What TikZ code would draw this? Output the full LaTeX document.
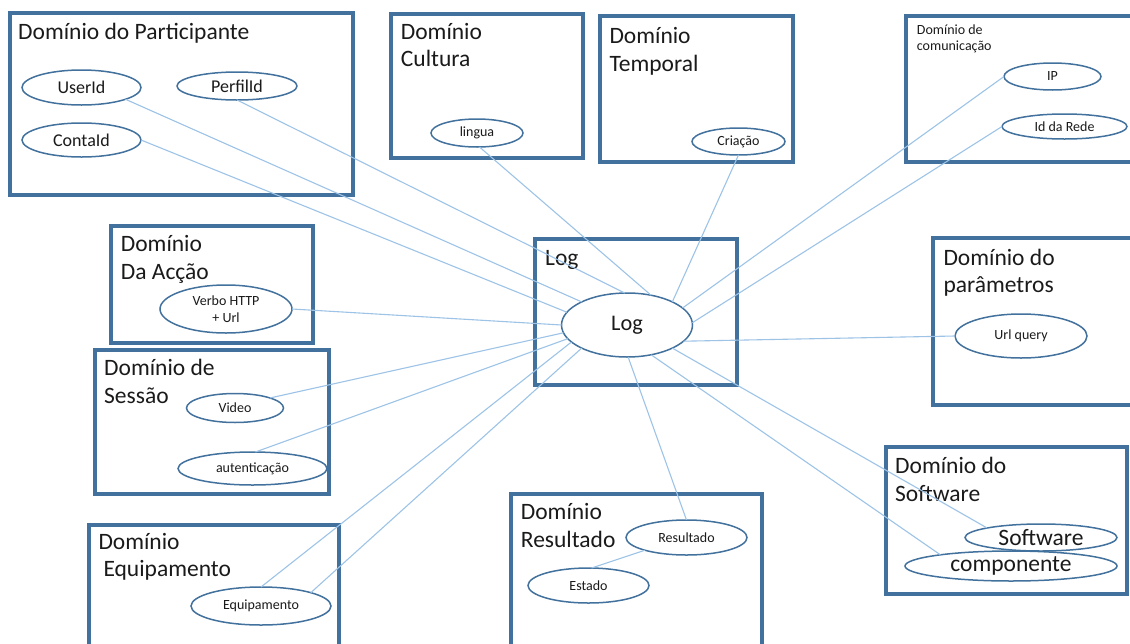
\documentclass[tikz,border=0pt]{standalone}
\usepackage{fontspec}
\setmainfont{Carlito}
\usetikzlibrary{shapes.geometric}
\definecolor{frame}{HTML}{41719C}
\definecolor{wire}{HTML}{9DC3E6}
\definecolor{ink}{HTML}{1A1A1A}
\begin{document}
\begin{tikzpicture}[x=1pt,y=-1pt,
  dombox/.style={draw=frame,line width=4pt,rectangle,inner sep=0pt,outer sep=0pt},
  % titles are placed by the baseline of their last line
  domtitle/.style={anchor=base west,inner sep=0pt,align=left,text=ink,
    font=\fontsize{23.5}{27.7}\selectfont},
  domtitlesmall/.style={domtitle,font=\fontsize{14}{16}\selectfont},
  attrnode/.style={draw=frame,line width=1.5pt,ellipse,fill=white,inner sep=0pt,
    outer sep=0pt,text=ink,font=\fontsize{14}{17.6}\selectfont,align=center},
  midattr/.style={attrnode,font=\fontsize{18}{20}\selectfont},
  bigattr/.style={attrnode,font=\fontsize{23.5}{26}\selectfont},
  wireline/.style={draw=wire,line width=1.1pt}]
\useasboundingbox (0,0) rectangle (1130,643);
\clip (0,0) rectangle (1130,643);

% domain frames
\node[dombox,minimum width=343,minimum height=182]   (partbox)  at (181,103.5)   {};
\node[dombox,minimum width=192,minimum height=143.5] (cultbox)  at (486.5,85.75) {};
\node[dombox,minimum width=193.5,minimum height=145.5] (tempbox) at (696.25,88.75) {};
\node[dombox,minimum width=234,minimum height=145.5] (comubox)  at (1023,88.75)  {};
\node[dombox,minimum width=202,minimum height=117]   (acaobox)  at (212,284)     {};
\node[dombox,minimum width=234,minimum height=144]   (sessbox)  at (212,422)     {};
\node[dombox,minimum width=202,minimum height=146]   (logbox)   at (636,312)     {};
\node[dombox,minimum width=207,minimum height=167]   (parambox) at (1036.5,321.5) {};
\node[dombox,minimum width=241,minimum height=147]   (softbox)  at (1006.5,520.5) {};
\node[dombox,minimum width=251,minimum height=156]   (resbox)   at (636,572)     {};
\node[dombox,minimum width=250,minimum height=125]   (equipbox) at (214,587.5)   {};

% frame titles
\node[domtitle] (parttitle)  at (18,39.3)    {Domínio do Participante};
\node[domtitle] (culttitle)  at (400.7,66.9) {Domínio\\Cultura};
\node[domtitle] (temptitle)  at (609.3,71.3) {Domínio\\Temporal};
\node[domtitlesmall] (comutitle) at (916.7,50) {Domínio de\\comunicação};
\node[domtitle] (acaotitle)  at (120.7,279.3) {Domínio\\Da Acção};
\node[domtitle] (sesstitle)  at (104,403.5)  {Domínio de\\Sessão};
\node[domtitle] (logtitle)   at (545,265)    {Log};
\node[domtitle] (paramtitle) at (943.3,292.7) {Domínio do\\parâmetros};
\node[domtitle] (softtitle)  at (895,501.3)  {Domínio do\\Software};
\node[domtitle] (restitle)   at (520.7,547)  {Domínio\\Resultado};
\node[domtitle] (equiptitle) at (98.3,576.9) {Domínio\\\hspace*{5pt}Equipamento};

% attributes
\node[attrnode,minimum width=131,minimum height=64,font=\fontsize{22.3}{24}\selectfont] (log) at (627,325) {Log};
\node[midattr,minimum width=119,minimum height=35] (user)    at (81.5,87.5)  {UserId};
\node[midattr,minimum width=120,minimum height=28] (perfil)  at (237,86)     {PerfilId};
\node[midattr,minimum width=119,minimum height=34] (conta)   at (81.5,140)   {ContaId};
\node[attrnode,minimum width=92,minimum height=28]     (lingua)  at (477,133)    {lingua};
\node[attrnode,minimum width=93,minimum height=27]     (criacao) at (738.5,141.5) {Criação};
\node[attrnode,minimum width=97,minimum height=27]     (ip)      at (1052.5,76.5) {IP};
\node[attrnode,minimum width=125,minimum height=25]    (rede)    at (1064.5,126.5) {Id da Rede};
\node[attrnode,minimum width=132,minimum height=48]    (verbo)   at (226,309)    {Verbo HTTP\\+ Url};
\node[attrnode,minimum width=97,minimum height=29]     (video)   at (235,408)    {Video};
\node[attrnode,minimum width=149,minimum height=33]    (auth)    at (252.5,468.5) {autenticação};
\node[attrnode,minimum width=140,minimum height=38]    (equip)   at (261,606)    {Equipamento};
\node[attrnode,minimum width=132,minimum height=44]    (url)     at (1021,336)   {Url query};
\node[bigattr,minimum width=152,minimum height=27] (soft)    at (1041,537.5) {Software};
\node[bigattr,minimum width=212,minimum height=30] (comp)    at (1011,566)   {componente};
\node[attrnode,minimum width=121,minimum height=35]    (result)  at (686.5,537.5) {Resultado};
\node[attrnode,minimum width=121,minimum height=35]    (estado)  at (588.5,585.5) {Estado};

% connectors to the central log entry
\path[wireline] (user.-15)    -- (log.153);
\path[wireline] (perfil.south) -- (log.94);
\path[wireline] (conta.east)  -- (log.168);
\path[wireline] (lingua.-80)  -- (log.51);
\path[wireline] (criacao.south) -- (log.27);
\path[wireline] (ip.west)     -- (log.17);
\path[wireline] (rede.west)   -- (log.2);
\path[wireline] (verbo.east)  -- (log.180);
\path[wireline] (video.16)    -- (log.187);
\path[wireline] (auth.80)     -- (log.193);
\path[wireline] (equip.north) -- (log.197);
\path[wireline] (equip.15)    -- (log.207);
\path[wireline] (url.west)    -- (log.344);
\path[wireline] (soft.170)    -- (log.333);
\path[wireline] (comp.171)    -- (log.309);
\path[wireline] (result.north) -- (log.272);
\path[wireline] (result.197)  -- (estado.80);
\end{tikzpicture}
\end{document}
